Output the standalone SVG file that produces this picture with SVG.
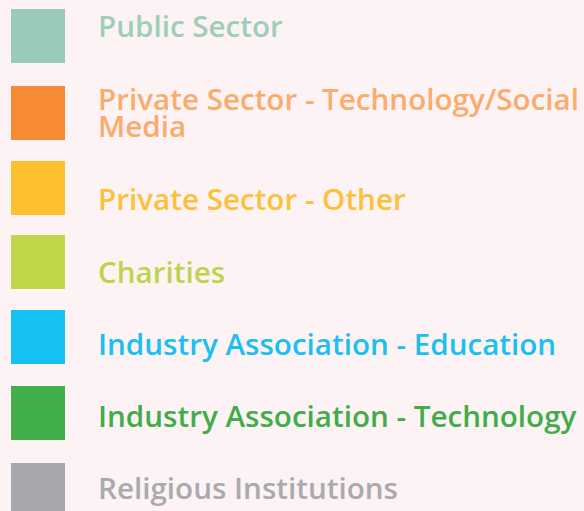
<svg xmlns="http://www.w3.org/2000/svg" width="584" height="511" viewBox="0 0 584 511">
  <style>
    .lbl { font-family: "Open Sans", "Noto Sans", sans-serif; font-weight: 600; font-size: 29.6px; }
  </style>
  <rect width="584" height="511" fill="#fdf3f4"/>
  <g id="public-sector">
    <rect x="11" y="9" width="54" height="54" fill="#99cbb8"/>
    <text class="lbl" x="98" y="37" fill="#9dceba">Public Sector</text>
  </g>
  <g id="private-tech">
    <rect x="11" y="86" width="54" height="54" fill="#f68b33"/>
    <text class="lbl" x="98" y="110" fill="#fbab6e">Private Sector - Technology/Social</text>
    <text class="lbl" x="98" y="137" fill="#fbab6e">Media</text>
  </g>
  <g id="private-other">
    <rect x="11" y="161" width="54" height="54" fill="#fec02e"/>
    <text class="lbl" x="98" y="210" fill="#fdc03a">Private Sector - Other</text>
  </g>
  <g id="charities">
    <rect x="11" y="235" width="54" height="54" fill="#bfd647"/>
    <text class="lbl" x="98" y="283" fill="#bcd54c">Charities</text>
  </g>
  <g id="industry-education">
    <rect x="11" y="310" width="54" height="54" fill="#15c1f3"/>
    <text class="lbl" x="98" y="355" fill="#1bbff0">Industry Association - Education</text>
  </g>
  <g id="industry-technology">
    <rect x="11" y="386" width="54" height="54" fill="#41ae4a"/>
    <text class="lbl" x="98" y="427" fill="#41ad4a">Industry Association - Technology</text>
  </g>
  <g id="religious">
    <rect x="11" y="463" width="54" height="54" fill="#a7a8ac"/>
    <text class="lbl" x="98" y="499" fill="#a9aaae">Religious Institutions</text>
  </g>
</svg>
